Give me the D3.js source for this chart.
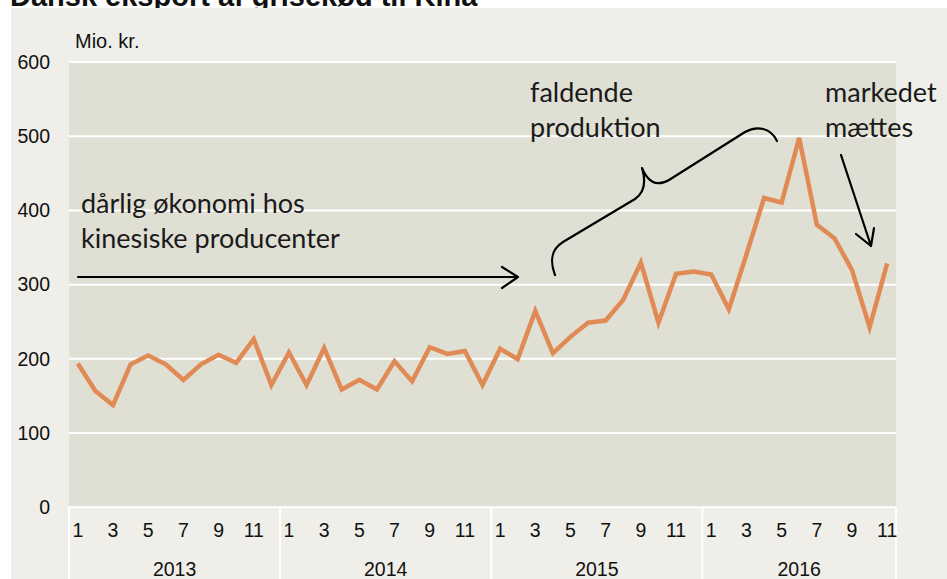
<!DOCTYPE html>
<html>
<head>
<meta charset="utf-8">
<script src="https://cdn.jsdelivr.net/npm/d3@7"></script>
<style>
  body { margin: 0; background: #fff; }
  svg text { font-family: "Liberation Sans", Arial, sans-serif; fill: #111; }
  .note { font-family: Lato, "Open Sans", sans-serif; fill: #1a1a1a; }
</style>
</head>
<body>
<svg id="chart" width="947" height="579"></svg>
<script>
// Dansk eksport af grisekød til Kina, mio. kr. per måned
var years = ["2013", "2014", "2015", "2016"];
var months = [1, 2, 3, 4, 5, 6, 7, 8, 9, 10, 11, 12];
var v2013 = [193, 156, 137, 192, 204, 192, 171, 192, 205, 194, 226, 164];
var v2014 = [208, 164, 214, 158, 171, 158, 196, 169, 215, 206, 210, 164];
var v2015 = [213, 199, 264, 207, 229, 248, 251, 279, 329, 248, 314, 317];
var v2016 = [313, 266, 340, 416, 410, 497, 380, 362, 319, 242, 328];
var yTicks = [0, 100, 200, 300, 400, 500, 600];

var series = [v2013, v2014, v2015, v2016];
var data = [];
series.forEach(function (vals, i) {
    vals.forEach(function (v, j) {
        data.push({ year: years[i], month: months[j], key: years[i] + "-" + months[j], value: v });
    });
});

var W = 947, H = 579;
var plot = { left: 69, right: 896, top: 61.5, bottom: 506.8 };

var svg = d3.select("#chart");

// title (cut by the panel, as in the source)
svg.append("text").attr("x", 10).attr("y", 6)
    .style("font-size", "29px").style("font-weight", "bold")
    .text("Dansk eksport af grisekød til Kina");

svg.append("rect").attr("x", 11).attr("y", 8).attr("width", W - 11).attr("height", H - 8)
    .style("fill", "#efeee8");

var x = d3.scaleBand().domain(data.map(function (d) { return d.key; }))
    .range([plot.left, plot.right]).padding(0);
var y = d3.scaleLinear().domain([0, 600]).range([plot.bottom, plot.top]);

svg.append("rect").attr("x", plot.left).attr("y", plot.top)
    .attr("width", plot.right - plot.left).attr("height", plot.bottom - plot.top)
    .style("fill", "#e0dfd4");

// y axis + grid
var gy = svg.append("g").attr("transform", "translate(" + plot.left + ",0)")
    .call(d3.axisLeft(y).tickValues(yTicks).tickSize(-(plot.right - plot.left)).tickPadding(19));
gy.select(".domain").remove();
gy.selectAll("line").style("stroke", "#fff").style("stroke-width", 2);
gy.selectAll("text").style("font-size", "19.5px").attr("dy", "0.35em");

// year separators below the plot
var yearEdges = years.map(function (yr) { return x(yr + "-1"); }).concat([plot.right]);
svg.selectAll("line.sep").data(yearEdges).enter().append("line").attr("class", "sep")
    .attr("x1", function (d) { return d; }).attr("x2", function (d) { return d; })
    .attr("y1", plot.bottom).attr("y2", H)
    .style("stroke", "#fff").style("stroke-width", 2);

// month labels
var gx = svg.append("g").attr("transform", "translate(0," + plot.bottom + ")")
    .call(d3.axisBottom(x)
        .tickValues(data.filter(function (d) { return d.month % 2 == 1; }).map(function (d) { return d.key; }))
        .tickFormat(function (k) { return k.split("-")[1]; })
        .tickSize(0).tickPadding(16));
gx.select(".domain").remove();
gx.selectAll("text").style("font-size", "19.5px");

// year labels
svg.selectAll("text.year").data(years).enter().append("text").attr("class", "year")
    .attr("x", function (yr, i) { return (yearEdges[i] + yearEdges[i + 1]) / 2; })
    .attr("y", 576).attr("text-anchor", "middle").style("font-size", "19.5px")
    .text(function (d) { return d; });

svg.append("text").attr("x", 75).attr("y", 48).style("font-size", "20px").text("Mio. kr.");

// the series
var line = d3.line()
    .x(function (d) { return x(d.key) + x.bandwidth() / 2; })
    .y(function (d) { return y(d.value); });
svg.append("path").datum(data).attr("d", line)
    .style("fill", "none").style("stroke", "#e08a55").style("stroke-width", 4.5)
    .style("stroke-linejoin", "miter");

// annotations
function note(lines, x0, y0) {
    var t = svg.append("text").attr("class", "note").attr("x", x0).attr("y", y0).style("font-size", "27px");
    lines.forEach(function (s, i) {
        t.append("tspan").attr("x", x0).attr("dy", i ? 35 : 0).text(s);
    });
}
note(["dårlig økonomi hos", "kinesiske producenter"], 81, 213);
note(["faldende", "produktion"], 530, 102);
note(["markedet", "mættes"], 825, 102);

var ink = { fill: "none", stroke: "#000", "stroke-width": 2.2, "stroke-linecap": "round", "stroke-linejoin": "round" };
function pen(d) {
    var p = svg.append("path").attr("d", d);
    for (var k in ink) p.style(k, ink[k]);
}
pen("M78,277 L518,277 M502,267 L518,277 L502,288");
pen("M555,275 C549,259 552,249 563,242 L635,199 C645,192 646,181 642,168 " +
    "C647,180 655,188 669,180 L745,132 C757,125 771,128 777,141");
pen("M841,155 L871,246 M856,234 L871,246 L874,228");
</script>
</body>
</html>
